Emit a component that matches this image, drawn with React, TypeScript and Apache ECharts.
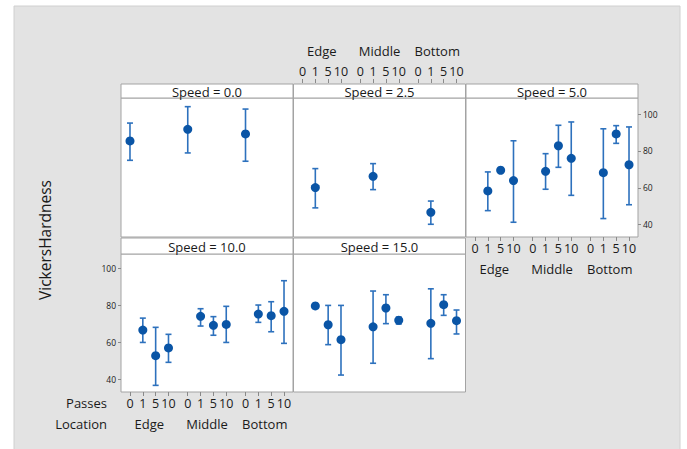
import React, { useEffect, useRef } from "react";
import * as echarts from "echarts";

const locations = ["Edge", "Middle", "Bottom"];
const passes = ["0", "1", "5", "10"];
const speedLabels = ["0.0", "2.5", "5.0", "10.0", "15.0"];
const yTicks = [40, 60, 80, 100];

// order of each array: Edge 0,1,5,10 | Middle 0,1,5,10 | Bottom 0,1,5,10
const speed0Mean = [85.4, null, null, null, 91.7, null, null, null, 89.2, null, null, null];
const speed0Low = [74.9, null, null, null, 78.9, null, null, null, 74.4, null, null, null];
const speed0High = [95.1, null, null, null, 104.0, null, null, null, 102.7, null, null, null];

const speed25Mean = [null, 60.1, null, null, null, 66.2, null, null, null, 46.7, null, null];
const speed25Low = [null, 49.1, null, null, null, 59.0, null, null, null, 40.2, null, null];
const speed25High = [null, 70.4, null, null, null, 73.1, null, null, null, 52.8, null, null];

const speed5Mean = [null, 58.3, 69.5, 63.9, null, 68.9, 82.8, 76.0, null, 68.2, 89.2, 72.5];
const speed5Low = [null, 47.6, null, 41.3, null, 59.2, 71.1, 55.9, null, 43.3, 84.1, 50.8];
const speed5High = [null, 68.6, null, 85.5, null, 78.5, 93.9, 95.7, null, 92.0, 93.7, 93.0];

const speed10Mean = [null, 66.7, 52.8, 57.0, null, 74.2, 69.3, 69.8, null, 75.4, 74.5, 76.9];
const speed10Low = [null, 60.0, 36.7, 49.2, null, 68.9, 63.9, 60.0, null, 70.9, 65.8, 59.5];
const speed10High = [null, 73.2, 68.2, 64.4, null, 78.3, 74.0, 79.6, null, 80.3, 82.1, 93.5];

const speed15Mean = [null, 79.8, 69.6, 61.5, null, 68.5, 78.7, 72.0, null, 70.4, 80.5, 71.8];
const speed15Low = [null, null, 58.8, 42.3, null, 48.7, 70.2, 70.0, null, 51.2, 74.7, 64.6];
const speed15High = [null, null, 80.1, 80.1, null, 87.9, 85.9, 73.8, null, 89.1, 85.9, 77.6];

const means = [speed0Mean, speed25Mean, speed5Mean, speed10Mean, speed15Mean];
const lows = [speed0Low, speed25Low, speed5Low, speed10Low, speed15Low];
const highs = [speed0High, speed25High, speed5High, speed10High, speed15High];

const FONT = "Open Sans";
const TEXT = "#1a1a1a";
const BORDER = "#a3a3a3";
const DOT = "#0a55a6";
const BAR = "#2d71bd";

// category layout along the x value axis: groups of 4 passes with a gap
const GROUP_STEP = 4.5;
const passPositions: number[] = [];
const passPosLabels: string[] = [];
locations.forEach((_, g) =>
  passes.forEach((p, k) => {
    passPositions.push(g * GROUP_STEP + k);
    passPosLabels.push(p);
  })
);
const locPositions = locations.map((_, g) => g * GROUP_STEP + (passes.length - 1) / 2);

const panels = [
  { left: 121, top: 98, height: 139, ymin: 33.3, ymax: 108.7, stripTop: 84, stripH: 14 },
  { left: 293.5, top: 98, height: 139, ymin: 33.3, ymax: 108.7, stripTop: 84, stripH: 14 },
  { left: 466, top: 98, height: 139, ymin: 33.3, ymax: 108.7, stripTop: 84, stripH: 14 },
  { left: 121, top: 254, height: 138, ymin: 33.1, ymax: 108.0, stripTop: 238, stripH: 16 },
  { left: 293.5, top: 254, height: 138, ymin: 33.1, ymax: 108.0, stripTop: 238, stripH: 16 },
];
const PANEL_W = 172;

const passFormatter = (v: number) => {
  const i = passPositions.findIndex((p) => Math.abs(p - v) < 0.01);
  return i >= 0 ? passPosLabels[i] : "";
};
const locFormatter = (v: number) => {
  const i = locPositions.findIndex((p) => Math.abs(p - v) < 0.01);
  return i >= 0 ? locations[i] : "";
};

export default function App() {
  const ref = useRef<HTMLDivElement>(null);
  useEffect(() => {
    document.body.style.margin = "0";
    const chart = echarts.init(ref.current!, null, { renderer: "svg" });

    const grids = panels.map((p) => ({
      left: p.left,
      top: p.top,
      width: PANEL_W,
      height: p.height,
      show: true,
      backgroundColor: "#ffffff",
      borderColor: BORDER,
      borderWidth: 1,
      containLabel: false,
    }));

    const xAxes: any[] = [];
    panels.forEach((p, i) => {
      const visible = i === 1 || i === 2 || i === 3;
      const isTop = i === 1;
      xAxes.push({
        gridIndex: i,
        type: "value",
        min: -0.7,
        max: 12.7,
        position: isTop ? "top" : "bottom",
        offset: isTop ? 15 : 0,
        axisLine: { show: false, onZero: false },
        splitLine: { show: false },
        axisTick: {
          show: visible,
          customValues: passPositions,
          length: 4,
          lineStyle: { color: "#8a8a8a" },
        },
        axisLabel: {
          show: visible,
          customValues: passPositions,
          formatter: passFormatter,
          margin: 5,
          fontSize: 12.5,
          fontFamily: FONT,
          color: TEXT,
          hideOverlap: false,
        },
      });
    });
    const locAxisPanels = [1, 2, 3];
    locAxisPanels.forEach((i) => {
      const isTop = i === 1;
      xAxes.push({
        gridIndex: i,
        type: "value",
        min: -0.7,
        max: 12.7,
        position: isTop ? "top" : "bottom",
        offset: isTop ? 36 : 20,
        axisLine: { show: false, onZero: false },
        splitLine: { show: false },
        axisTick: { show: false },
        axisLabel: {
          show: true,
          customValues: locPositions,
          formatter: locFormatter,
          margin: 5,
          fontSize: 13,
          fontFamily: FONT,
          color: TEXT,
        },
      });
    });

    const yAxes = panels.map((p, i) => {
      const visible = i === 2 || i === 3;
      return {
        gridIndex: i,
        type: "value",
        min: p.ymin,
        max: p.ymax,
        position: i === 2 ? "right" : "left",
        axisLine: { show: false, onZero: false },
        splitLine: { show: false },
        axisTick: {
          show: visible,
          customValues: yTicks,
          length: 3,
          lineStyle: { color: "#8a8a8a" },
        },
        axisLabel: {
          show: visible,
          customValues: yTicks,
          margin: 5,
          fontSize: 8.5,
          fontFamily: FONT,
          color: TEXT,
        },
      };
    });

    const series: any[] = [];
    panels.forEach((_, i) => {
      const pts: number[][] = [];
      const bars: number[][] = [];
      passPositions.forEach((x, k) => {
        const m = means[i][k];
        if (m != null) pts.push([x, m]);
        const lo = lows[i][k];
        const hi = highs[i][k];
        if (lo != null && hi != null) bars.push([x, lo, hi]);
      });
      series.push({
        type: "custom",
        xAxisIndex: i,
        yAxisIndex: i,
        data: bars,
        encode: { x: 0, y: [1, 2] },
        renderItem: (params: any, api: any) => {
          const x = api.value(0);
          const a = api.coord([x, api.value(1)]);
          const b = api.coord([x, api.value(2)]);
          const c = 3;
          const style = { stroke: BAR, lineWidth: 1.6 };
          return {
            type: "group",
            children: [
              { type: "line", shape: { x1: a[0], y1: a[1], x2: b[0], y2: b[1] }, style },
              { type: "line", shape: { x1: a[0] - c, y1: a[1], x2: a[0] + c, y2: a[1] }, style },
              { type: "line", shape: { x1: b[0] - c, y1: b[1], x2: b[0] + c, y2: b[1] }, style },
            ],
          };
        },
        z: 2,
      });
      series.push({
        type: "scatter",
        xAxisIndex: i,
        yAxisIndex: i,
        data: pts,
        symbol: "circle",
        symbolSize: 9,
        itemStyle: { color: DOT, opacity: 1 },
        z: 3,
      });
    });

    const graphic: any[] = [
      {
        type: "rect",
        shape: { x: 14, y: 6, width: 666, height: 450 },
        style: { fill: "#e3e3e3", stroke: "#d0d0d0", lineWidth: 1 },
        z: -10,
        silent: true,
      },
    ];
    panels.forEach((p, i) => {
      graphic.push({
        type: "rect",
        shape: { x: p.left, y: p.stripTop, width: PANEL_W, height: p.stripH },
        style: { fill: "#ffffff", stroke: BORDER, lineWidth: 1 },
        z: 5,
      });
      graphic.push({
        type: "text",
        x: p.left + PANEL_W / 2,
        y: p.stripTop + p.stripH / 2 + 0.5,
        style: {
          text: "Speed = " + speedLabels[i],
          fontSize: 13,
          fontFamily: FONT,
          fill: TEXT,
          align: "center",
          verticalAlign: "middle",
        },
        z: 6,
      });
    });
    graphic.push(
      {
        type: "text",
        x: 107,
        y: 403,
        style: { text: "Passes", fontSize: 13, fontFamily: FONT, fill: TEXT, align: "right", verticalAlign: "middle" },
        z: 6,
      },
      {
        type: "text",
        x: 107,
        y: 424,
        style: { text: "Location", fontSize: 13, fontFamily: FONT, fill: TEXT, align: "right", verticalAlign: "middle" },
        z: 6,
      },
      {
        type: "text",
        x: 45,
        y: 240,
        rotation: Math.PI / 2,
        style: { text: "VickersHardness", fontSize: 15.5, fontFamily: FONT, fill: TEXT, align: "center", verticalAlign: "middle" },
        z: 6,
      }
    );

    chart.setOption({
      animation: false,
      backgroundColor: "#ffffff",
      grid: grids,
      xAxis: xAxes,
      yAxis: yAxes,
      series,
      graphic,
    });
    return () => chart.dispose();
  }, []);
  return (
    <div
      ref={ref}
      style={{ position: "absolute", left: 0, top: 0, width: 687, height: 449 }}
    />
  );
}
